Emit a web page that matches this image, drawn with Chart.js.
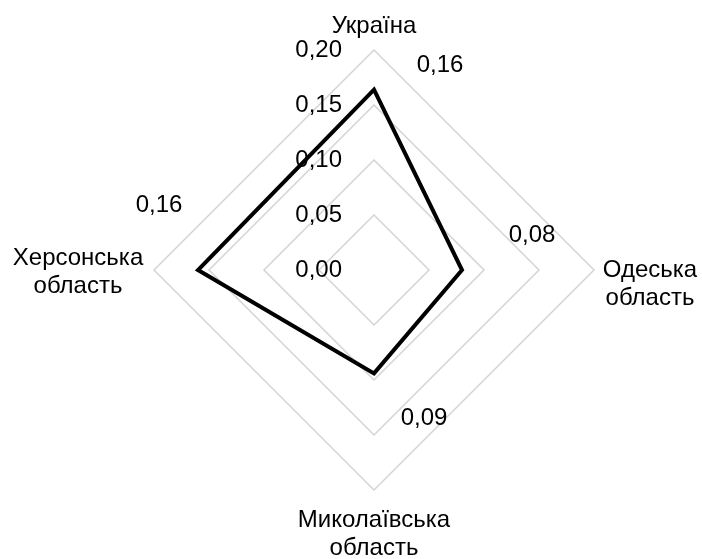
<!DOCTYPE html>
<html><head><meta charset="utf-8">
<script src="https://cdn.jsdelivr.net/npm/chart.js@4/dist/chart.umd.min.js"></script>
<style>html,body{margin:0;padding:0;background:#fff}#wrap{width:702px;height:559px}</style>
</head><body><div id="wrap"><canvas id="c" width="702" height="559"></canvas></div>
<script>
// ---- data ----
const categories = [["Україна"], ["Одеська", "область"], ["Миколаївська", "область"], ["Херсонська", "область"]];
const seriesValues = [0.164, 0.080, 0.094, 0.160];
const tickValues = [0.00, 0.05, 0.10, 0.15, 0.20];
const tickLabels = ["0,00", "0,05", "0,10", "0,15", "0,20"];

// ---- styles ----
const FONT = '24px "Liberation Sans", Arial, sans-serif';
const LINE_H = 28;
// offsets of category labels from the outer vertex of each axis (dx, first-line baseline dy)
const catOffsets = [[0, -17], [56, 7], [0, 37], [-76, -5]];
// offsets of value labels from the data point (center x, middle y)
const valOffsets = [[66, -24], [70, -35], [50, 45], [-39, -65]];

function fmt(v) { return v.toFixed(2).replace('.', ','); }

const labelPlugin = {
  id: 'labelPlugin',
  beforeDatasetsDraw(chart) {
    const s = chart.scales.r, ctx = chart.ctx;
    ctx.save();
    ctx.font = FONT;
    ctx.fillStyle = '#000';
    ctx.textAlign = 'right';
    ctx.textBaseline = 'middle';
    tickValues.forEach((v, i) => {
      const d = s.getDistanceFromCenterForValue(v);
      ctx.fillText(tickLabels[i], s.xCenter - 32, s.yCenter - d);
    });
    ctx.restore();
  },
  afterDatasetsDraw(chart) {
    const s = chart.scales.r, ctx = chart.ctx;
    ctx.save();
    ctx.font = FONT;
    ctx.fillStyle = '#000';
    ctx.textAlign = 'center';
    ctx.textBaseline = 'alphabetic';
    categories.forEach((lines, i) => {
      const p = s.getPointPosition(i, s.drawingArea);
      lines.forEach((t, k) => {
        ctx.fillText(t, p.x + catOffsets[i][0], p.y + catOffsets[i][1] + k * LINE_H);
      });
    });
    ctx.textBaseline = 'middle';
    const meta = chart.getDatasetMeta(0);
    meta.data.forEach((pt, i) => {
      ctx.fillText(fmt(seriesValues[i]), pt.x + valOffsets[i][0], pt.y + valOffsets[i][1]);
    });
    ctx.restore();
  }
};

new Chart(document.getElementById('c'), {
  type: 'radar',
  data: {
    labels: categories,
    datasets: [{
      data: seriesValues,
      borderColor: '#000',
      borderWidth: 4,
      borderJoinStyle: 'miter',
      fill: false,
      backgroundColor: 'transparent',
      pointRadius: 0,
      pointHoverRadius: 0,
      tension: 0
    }]
  },
  options: {
    responsive: false,
    animation: false,
    devicePixelRatio: 1,
    layout: { padding: { left: 154, right: 108, top: 50, bottom: 69 } },
    plugins: { legend: { display: false }, tooltip: { enabled: false } },
    scales: {
      r: {
        min: 0,
        max: 0.2,
        ticks: { stepSize: 0.05, display: false },
        grid: { color: '#d4d4d4', lineWidth: 1.5 },
        angleLines: { display: false },
        pointLabels: { display: false }
      }
    }
  },
  plugins: [labelPlugin]
});
</script>
</body></html>
